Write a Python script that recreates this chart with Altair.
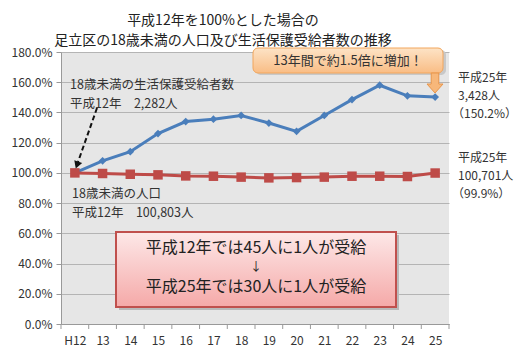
import altair as alt
import pandas as pd

years = ["H12", "13", "14", "15", "16", "17", "18", "19", "20", "21", "22", "23", "24", "25"]
welfare = [100, 108, 114, 126, 134, 135.5, 138, 133, 127.5, 138, 148.5, 158, 151, 150.2]
population = [100, 99.6, 99.1, 98.7, 98.0, 97.8, 97.2, 96.7, 96.9, 97.2, 97.8, 97.8, 97.6, 99.9]
series_names = ["18歳未満の生活保護受給者数", "18歳未満の人口"]
series_colors = ["#4a7ebb", "#be4b48"]
title_lines = ["平成12年を100%とした場合の", "足立区の18歳未満の人口及び生活保護受給者数の推移"]

rows = []
for y, w, p in zip(years, welfare, population):
    rows.append({"year": y, "value": w, "series": series_names[0]})
    rows.append({"year": y, "value": p, "series": series_names[1]})
df = pd.DataFrame(rows)

FONT = "Noto Sans CJK JP"
W, H = 388, 272
step = W / len(years)

xscale = alt.Scale(type="point", padding=0.5)
xenc = alt.X("year:N", sort=years, title=None, scale=xscale,
             axis=alt.Axis(labelFontSize=12, labelColor="#333", labelFont=FONT,
                           labelAngle=0, ticks=False, domainColor="#999",
                           labelPadding=11, grid=False))
yenc = alt.Y("value:Q", title=None,
             scale=alt.Scale(domain=[0, 180], nice=False),
             axis=alt.Axis(values=list(range(0, 181, 20)),
                           labelExpr="format(datum.value, '.1f') + '%'",
                           labelFontSize=12, labelColor="#333", labelFont=FONT,
                           tickSize=5, tickColor="#999", domainColor="#999",
                           gridColor="#b4b4b4", labelPadding=4))
color = alt.Color("series:N", scale=alt.Scale(domain=series_names, range=series_colors), legend=None)

base = alt.Chart(df)
lines = base.mark_line(strokeWidth=3).encode(x=xenc, y=yenc, color=color)
blue_pts = base.transform_filter(alt.datum.series == series_names[0]).mark_point(
    shape="diamond", filled=True, size=60, opacity=1, color=series_colors[0]).encode(x=xenc, y=yenc)
red_pts = base.transform_filter(alt.datum.series == series_names[1]).mark_point(
    shape="square", filled=True, size=90, opacity=1, color=series_colors[1]).encode(x=xenc, y=yenc)

# category-boundary ticks (Excel style)
tick_df = pd.DataFrame({"year": years})
xticks = alt.Chart(tick_df).mark_rule(color="#999", xOffset=-step / 2).encode(
    x=xenc, y=alt.value(H), y2=alt.value(H + 5))

one = alt.Data(values=[{}])

last_tick = alt.Chart(one).mark_rule(color="#999").encode(
    x=alt.value(W), y=alt.value(H), y2=alt.value(H + 5))

# orange callout
orange_grad = alt.Gradient(gradient="linear", x1=0, y1=0, x2=0, y2=1,
                           stops=[alt.GradientStop(color="#fde3c6", offset=0),
                                  alt.GradientStop(color="#f9bd85", offset=1)])
orange_shadow = alt.Chart(one).mark_rect(cornerRadius=5, color="#c8c8c8").encode(
    x=alt.value(195), x2=alt.value(385), y=alt.value(-2), y2=alt.value(23))
orange_box = alt.Chart(one).mark_rect(cornerRadius=5, fill=orange_grad, stroke="#f2a65c", strokeWidth=1).encode(
    x=alt.value(192), x2=alt.value(382), y=alt.value(-4), y2=alt.value(21))
orange_text = alt.Chart(one).mark_text(text="13年間で約1.5倍に増加！", font=FONT, fontSize=13,
                                       color="#333", align="center", baseline="middle").encode(
    x=alt.value(287), y=alt.value(8.5))
orange_arrow = alt.Chart(one).mark_point(
    shape="M -0.38 -1 L 0.38 -1 L 0.38 0.1 L 0.8 0.1 L 0 1 L -0.8 0.1 L -0.38 0.1 Z",
    filled=True, size=400, color="#f7b77a", stroke="#e8954a", strokeWidth=1, opacity=1).encode(
    x=alt.value(374), y=alt.value(31))

# dashed arrow
dash_line = alt.Chart(one).mark_rule(strokeDash=[5, 3], strokeWidth=2, color="#111").encode(
    x=alt.value(36), y=alt.value(56), x2=alt.value(17), y2=alt.value(110))
dash_head = alt.Chart(one).mark_point(shape="triangle-down", filled=True, size=70, angle=20,
                                      color="#111", opacity=1).encode(x=alt.value(16), y=alt.value(113))

def txt(s, x, y, size=13, align="left", color="#333"):
    return alt.Chart(one).mark_text(text=s, font=FONT, fontSize=size, color=color,
                                    align=align, baseline="middle").encode(
        x=alt.value(x), y=alt.value(y))

labels = [
    txt(title_lines[0], 162, -31.5, 14, "center", "#222"),
    txt(title_lines[1], 162, -11, 14, "center", "#222"),
    txt("18歳未満の生活保護受給者数", 9, 33, 12.5),
    txt("平成12年　2,282人", 9, 52, 12.5),
    txt("18歳未満の人口", 11, 142, 12.5),
    txt("平成12年　100,803人", 11, 161, 12.5),
    txt("平成25年", 397, 26, 12),
    txt("3,428人", 397, 44, 12),
    txt("（150.2%）", 391, 62, 12),
    txt("平成25年", 397, 106, 12),
    txt("100,701人", 397, 124, 12),
    txt("（99.9%）", 391, 142, 12),
]

# pink box
pink_grad = alt.Gradient(gradient="linear", x1=0, y1=0, x2=0, y2=1,
                         stops=[alt.GradientStop(color="#fde8e8", offset=0),
                                alt.GradientStop(color="#f5a9a8", offset=1)])
pink_shadow = alt.Chart(one).mark_rect(color="#b9b9b9").encode(
    x=alt.value(58), x2=alt.value(338), y=alt.value(183), y2=alt.value(258))
pink_box = alt.Chart(one).mark_rect(fill=pink_grad, stroke="#c0504d", strokeWidth=2).encode(
    x=alt.value(55), x2=alt.value(335), y=alt.value(180), y2=alt.value(255))
pink_texts = [
    txt("平成12年では45人に1人が受給", 195, 196, 16, "center", "#222"),
    txt("↓", 195, 215, 12, "center", "#222"),
    txt("平成25年では30人に1人が受給", 195, 235, 16, "center", "#222"),
]

chart = alt.layer(
    lines, blue_pts, red_pts, xticks, last_tick,
    pink_shadow, pink_box, *pink_texts,
    orange_shadow, orange_box, orange_text, orange_arrow,
    dash_line, dash_head, *labels,
).properties(
    width=W, height=H,
    autosize=alt.AutoSizeParams(type="none"),
    padding={"left": 53, "top": 44, "right": 71, "bottom": 24},
).configure_view(fill="#e6e6e6", stroke=None)

chart.save("out.html", embed_options={"renderer": "svg", "actions": False})
